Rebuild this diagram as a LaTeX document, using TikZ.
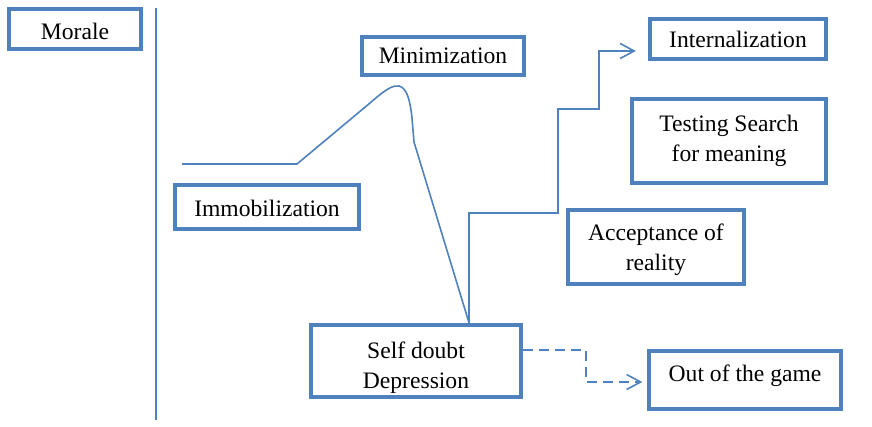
\documentclass[tikz,border=0pt]{standalone}
\usepackage{fontspec}
\setmainfont{Liberation Serif}
\usetikzlibrary{arrows.meta, calc}
\definecolor{frame}{HTML}{4F81BD}
\tikzset{
  box/.style  ={draw=frame, line width=1.9pt, fill=white, align=center,
                inner sep=2pt, font=\fontsize{11.8}{15}\selectfont},
  curve/.style={draw=frame, line width=0.8pt},
  flow/.style ={curve, -{Straight Barb[length=7pt,width=7.5pt]}},
  flowd/.style={flow, dash pattern=on 5pt off 3pt}
}

\begin{document}
\begin{tikzpicture}[x=0.5pt, y=-0.5pt]
  \useasboundingbox (0,0) rectangle (872,427);
  % axis
  \draw[curve, line width=1pt] (156,8) -- (156,420);
  % stages
  \node[box, minimum width=66.3pt, minimum height=19.8pt, text height=11pt, text depth=0pt] (morale) at (75,29) {Morale};
  \node[box, minimum width=80.8pt, minimum height=18.8pt] (minim) at (443,56) {Minimization};
  \node[box, minimum width=88.3pt, minimum height=19.8pt] (intern) at (738,39) {Internalization};
  \node[box, minimum width=96.8pt, minimum height=41.8pt] (testing) at (729,141) {Testing Search\\for meaning};
  \node[box, minimum width=92.3pt, minimum height=21.8pt, text height=10pt, text depth=0pt] (immob) at (267,207) {Immobilization};
  \node[box, minimum width=87.8pt, minimum height=36.8pt, inner ysep=1pt, text height=27pt, text depth=3.5pt] (accept) at (656,247) {Acceptance of\\reality};
  \node[box, minimum width=105.3pt, minimum height=36.3pt, inner ysep=1pt, text height=30.5pt, text depth=3pt] (selfdoubt) at (416,361) {Self doubt\\Depression};
  \node[box, minimum width=95.8pt, minimum height=28.8pt, text depth=6.5pt] (outgame) at (745,380) {Out of the game};
  % morale curve
  \coordinate (start) at (182,164);
  \coordinate (low)   at ($(selfdoubt.north)+(53,0)$);
  \draw[curve] (start) -- (297,164) -- (370,103)
    .. controls (386,89) and (393,85) .. (399,86)
    .. controls (407,88) and (410,100) .. (412,118) -- (414,142) -- (low);
  % recovery steps
  \draw[flow] (low) |- (558,213) |- (599,109) |- ($(intern.west)+(-12,12)$);
  \draw[flowd] ($(selfdoubt.east)+(0,-11)$) -- (586,350) |- ($(outgame.west)+(-5,2)$);
\end{tikzpicture}
\end{document}
